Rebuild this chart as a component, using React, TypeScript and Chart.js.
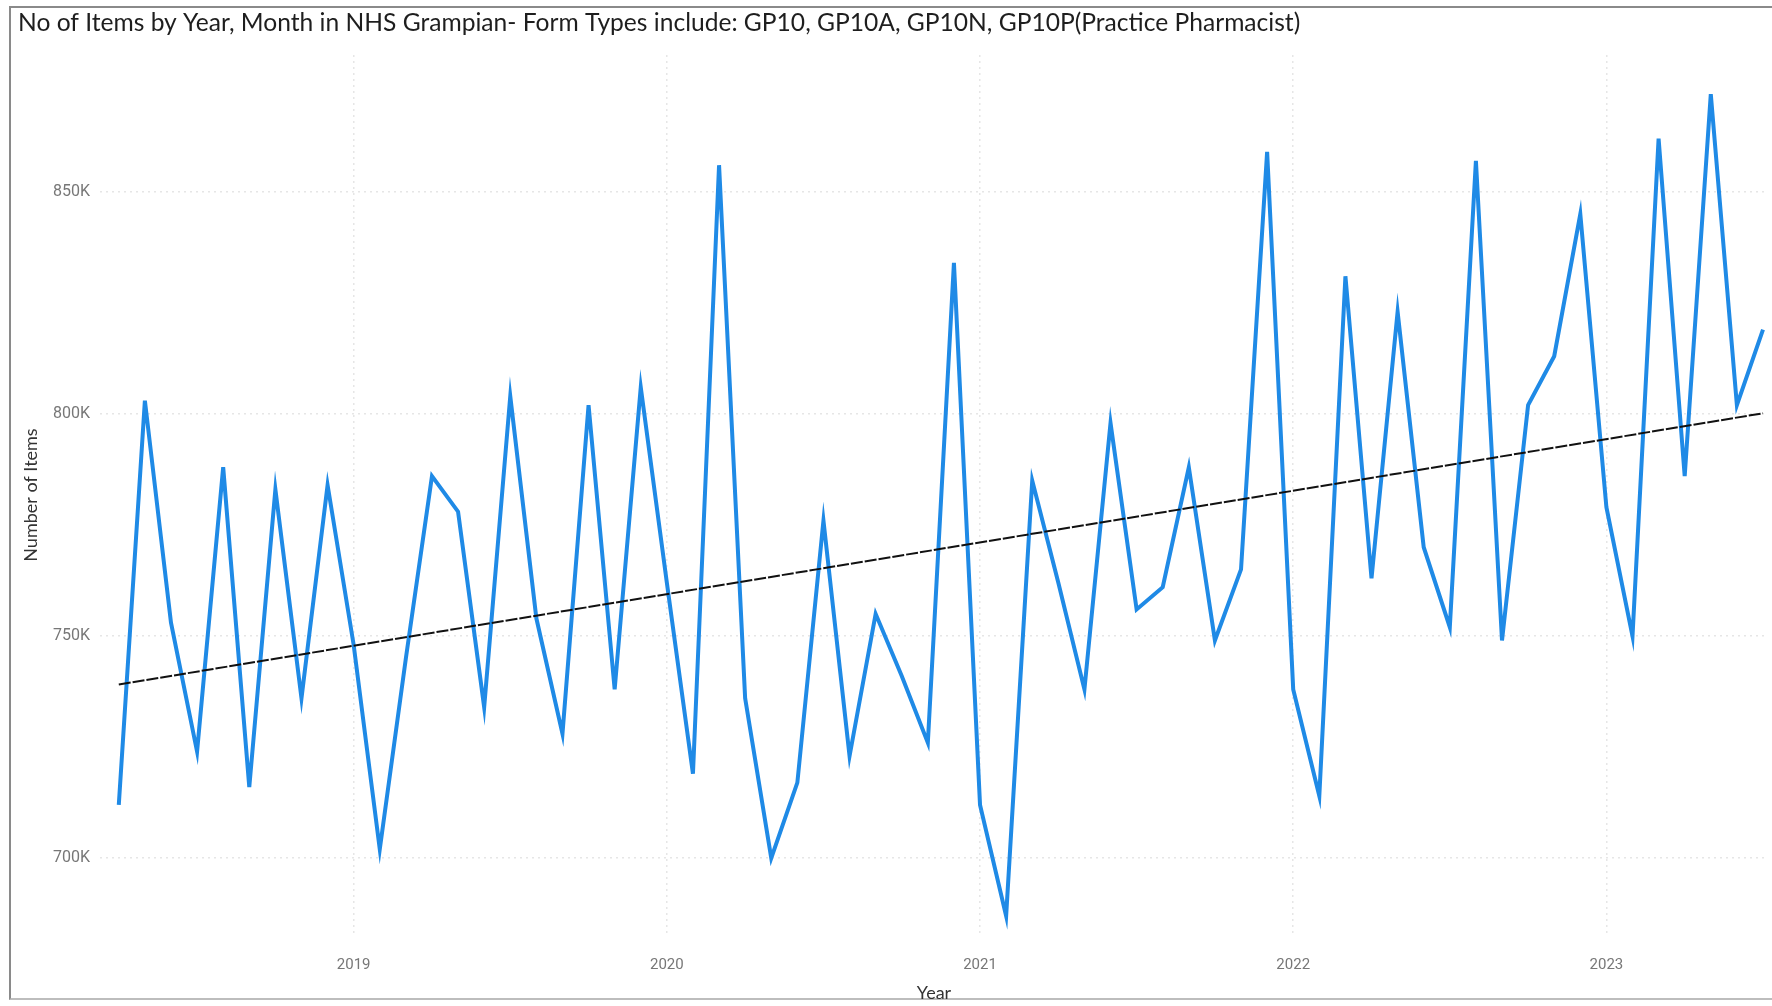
import React, { useEffect, useRef } from "react";
import { Chart, registerables } from "chart.js";

Chart.register(...registerables);

// Monthly categories (Apr 2018 – Jul 2023)
const months: string[] = [
  "2018-04","2018-05","2018-06","2018-07","2018-08","2018-09","2018-10","2018-11","2018-12",
  "2019-01","2019-02","2019-03","2019-04","2019-05","2019-06","2019-07","2019-08","2019-09","2019-10","2019-11","2019-12",
  "2020-01","2020-02","2020-03","2020-04","2020-05","2020-06","2020-07","2020-08","2020-09","2020-10","2020-11","2020-12",
  "2021-01","2021-02","2021-03","2021-04","2021-05","2021-06","2021-07","2021-08","2021-09","2021-10","2021-11","2021-12",
  "2022-01","2022-02","2022-03","2022-04","2022-05","2022-06","2022-07","2022-08","2022-09","2022-10","2022-11","2022-12",
  "2023-01","2023-02","2023-03","2023-04","2023-05","2023-06","2023-07",
];

// Number of items (thousands)
const itemsK: number[] = [
  712, 803, 753, 724, 788, 716, 783, 736, 784,
  748, 702, 745, 786, 778, 734, 804, 754, 728, 802, 738, 806,
  762, 719, 856, 736, 700, 717, 776, 723, 755, 741, 726, 834,
  712, 687, 785, 762, 738, 798, 756, 761, 788, 749, 765, 859,
  738, 714, 831, 763, 823, 770, 752, 857, 749, 802, 813, 845,
  779, 750, 862, 786, 872, 802, 819,
];

const yearTicks: number[] = [2019, 2020, 2021, 2022, 2023];
const yTicksK: number[] = [700, 750, 800, 850];

const TITLE =
  "No of Items by Year, Month in NHS Grampian- Form Types include: GP10, GP10A, GP10N, GP10P(Practice Pharmacist)";

function monthToX(m: string): number {
  const [y, mo] = m.split("-").map(Number);
  return y + (mo - 1) / 12;
}

export default function App() {
  const ref = useRef<HTMLCanvasElement | null>(null);

  useEffect(() => {
    document.body.style.margin = "0";
    const canvas = ref.current;
    if (!canvas) return;

    const xs = months.map(monthToX);
    const pts = xs.map((x, i) => ({ x, y: itemsK[i] * 1000 }));

    // least-squares trend line
    const n = xs.length;
    const mx = xs.reduce((a, b) => a + b, 0) / n;
    const my = pts.reduce((a, p) => a + p.y, 0) / n;
    let sxy = 0, sxx = 0;
    xs.forEach((x, i) => { sxy += (x - mx) * (pts[i].y - my); sxx += (x - mx) * (x - mx); });
    const slope = sxy / sxx;
    const trend = [xs[0], xs[n - 1]].map((x) => ({ x, y: my + slope * (x - mx) }));

    const chart = new Chart(canvas, {
      type: "line",
      data: {
        datasets: [
          {
            label: "Trend",
            data: trend,
            borderColor: "#111",
            borderWidth: 2,
            borderDash: [12, 2],
            pointRadius: 0,
            fill: false,
            order: 0,
          },
          {
            label: "Number of Items",
            data: pts,
            borderColor: "#1f8ae6",
            borderWidth: 4,
            pointRadius: 0,
            tension: 0,
            fill: false,
            order: 1,
          },
        ],
      },
      options: {
        responsive: false,
        animation: false,
        layout: { padding: { left: 18, right: 4, top: 0, bottom: 0 } },
        plugins: {
          legend: { display: false },
          tooltip: { enabled: false },
          title: {
            display: true,
            text: TITLE,
            align: "start",
            color: "#1e1e1e",
            font: { family: "Lato", size: 24.6, weight: "normal", lineHeight: 1.1 },
            padding: { top: 10, bottom: 18 },
          },
        },
        scales: {
          x: {
            type: "linear",
            min: 2018.19,
            max: 2023.516,
            afterBuildTicks: (s: any) => { s.ticks = yearTicks.map((v) => ({ value: v })); },
            afterFit: (s: any) => { s.height = 71; },
            ticks: {
              color: "#777",
              font: { family: "Roboto", size: 15 },
              padding: 21,
              callback: (v: any) => String(v),
              maxRotation: 0,
            },
            grid: { color: "#e6e6e6", drawTicks: false, lineWidth: 1.5 },
            border: { display: false, dash: [2, 4] },
            title: {
              display: true,
              text: "Year",
              color: "#333",
              font: { family: "Lato", size: 18 },
              padding: { top: 0, bottom: 2 },
            },
          },
          y: {
            type: "linear",
            min: 682700,
            max: 880800,
            afterBuildTicks: (s: any) => { s.ticks = yTicksK.map((v) => ({ value: v * 1000 })); },
            afterFit: (s: any) => { s.width = 82; },
            ticks: {
              color: "#777",
              font: { family: "Roboto", size: 16 },
              padding: 10,
              callback: (v: any) => `${Math.round(Number(v) / 1000)}K`,
            },
            grid: { color: "#e6e6e6", drawTicks: false, lineWidth: 1.5 },
            border: { display: false, dash: [2, 4] },
            title: {
              display: true,
              text: "Number of Items",
              color: "#333",
              font: { family: "Lato", size: 18 },
              padding: { top: 2, bottom: 0 },
            },
          },
        },
      },
    });
    return () => chart.destroy();
  }, []);

  return (
    <div style={{ position: "relative", width: 1772, height: 1006, background: "#fff", overflow: "hidden" }}>
      <div
        style={{
          position: "absolute",
          left: 9,
          top: 6,
          width: 1800,
          height: 994,
          borderLeft: "2px solid #8a8a8a",
          borderTop: "2px solid #8a8a8a",
          borderBottom: "2px solid #bdbdbd",
          boxSizing: "border-box",
        }}
      />
      <canvas ref={ref} width={1772} height={1006} style={{ position: "absolute", left: 0, top: 0, display: "block" }} />
    </div>
  );
}
